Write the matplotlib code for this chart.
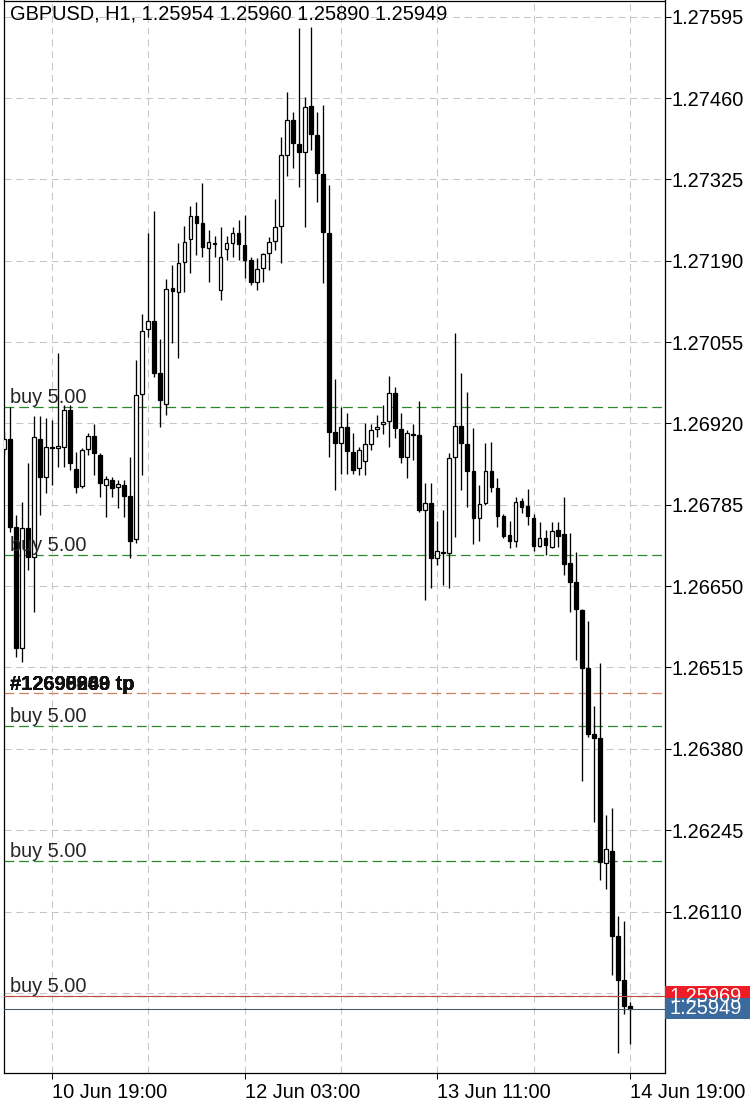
import numpy as np
import pandas as pd
import matplotlib
matplotlib.use('Agg')
import matplotlib.pyplot as plt
from matplotlib.patches import Rectangle
from matplotlib.transforms import blended_transform_factory

plt.rcParams['font.family'] = ['Liberation Sans', 'DejaVu Sans']
plt.rcParams['lines.scale_dashes'] = False

symbol = 'GBPUSD'
period = 'H1'
first_bar = '2024-06-10 11:00'

# hourly OHLC, oldest first (last bar = 14 Jun 19:00)
opens = [1.26877, 1.26894, 1.26748, 1.26547, 1.26746, 1.26698, 1.26894, 1.26831,
         1.26881, 1.26880, 1.26881, 1.26942, 1.26844, 1.26816, 1.26877, 1.26899,
         1.26867, 1.26818, 1.26826, 1.26814, 1.26818, 1.26799, 1.26728, 1.26969,
         1.27077, 1.27090, 1.27004, 1.26952, 1.27145, 1.27138, 1.27188, 1.27226,
         1.27264, 1.27252, 1.27211, 1.27219, 1.27141, 1.27209, 1.27219, 1.27236,
         1.27216, 1.27191, 1.27155, 1.27178, 1.27203, 1.27223, 1.27247, 1.27365,
         1.27423, 1.27384, 1.27370, 1.27447, 1.27399, 1.27334, 1.27236, 1.26906,
         1.26887, 1.26914, 1.26872, 1.26846, 1.26857, 1.26886, 1.26911, 1.26919,
         1.26924, 1.26970, 1.26911, 1.26864, 1.26902, 1.26901, 1.26776, 1.26788,
         1.26696, 1.26706, 1.26705, 1.26864, 1.26916, 1.26886, 1.26841, 1.26763,
         1.26788, 1.26841, 1.26813, 1.26766, 1.26735, 1.26725, 1.26791, 1.26783,
         1.26763, 1.26716, 1.26730, 1.26715, 1.26743, 1.26736, 1.26688, 1.26657,
         1.26610, 1.26514, 1.26404, 1.26398, 1.26190, 1.26210, 1.26069, 1.25996,
         1.25954]
highs = [1.26906, 1.26947, 1.26768, 1.26789, 1.26854, 1.26932, 1.26932, 1.26929,
         1.26926, 1.27037, 1.26950, 1.26950, 1.26872, 1.26879, 1.26904, 1.26919,
         1.26871, 1.26833, 1.26831, 1.26826, 1.26826, 1.26864, 1.27025, 1.27101,
         1.27236, 1.27272, 1.27060, 1.27160, 1.27183, 1.27219, 1.27247, 1.27281,
         1.27287, 1.27319, 1.27241, 1.27231, 1.27246, 1.27231, 1.27246, 1.27257,
         1.27266, 1.27196, 1.27194, 1.27203, 1.27229, 1.27292, 1.27395, 1.27470,
         1.27437, 1.27576, 1.27462, 1.27578, 1.27437, 1.27448, 1.27316, 1.26994,
         1.26947, 1.26937, 1.26904, 1.26881, 1.26921, 1.26919, 1.26934, 1.26950,
         1.26999, 1.26980, 1.26937, 1.26909, 1.26919, 1.26957, 1.26821, 1.26821,
         1.26758, 1.26776, 1.26871, 1.27070, 1.27004, 1.26972, 1.26912, 1.26818,
         1.26887, 1.26889, 1.26829, 1.26770, 1.26758, 1.26798, 1.26796, 1.26811,
         1.26770, 1.26756, 1.26743, 1.26756, 1.26756, 1.26798, 1.26738, 1.26706,
         1.26612, 1.26592, 1.26451, 1.26522, 1.26270, 1.26282, 1.26102, 1.26094,
         1.25960]
lows = [1.26867, 1.26740, 1.26532, 1.26524, 1.26676, 1.26607, 1.26768, 1.26804,
        1.26818, 1.26848, 1.26848, 1.26843, 1.26804, 1.26813, 1.26867, 1.26834,
        1.26798, 1.26765, 1.26798, 1.26779, 1.26765, 1.26696, 1.26721, 1.26834,
        1.27063, 1.26997, 1.26914, 1.26934, 1.27053, 1.27028, 1.27138, 1.27170,
        1.27199, 1.27196, 1.27155, 1.27196, 1.27125, 1.27191, 1.27196, 1.27191,
        1.27161, 1.27150, 1.27141, 1.27155, 1.27175, 1.27208, 1.27186, 1.27331,
        1.27344, 1.27312, 1.27246, 1.27374, 1.27287, 1.27153, 1.26864, 1.26809,
        1.26836, 1.26836, 1.26836, 1.26834, 1.26834, 1.26876, 1.26897, 1.26902,
        1.26881, 1.26896, 1.26854, 1.26829, 1.26859, 1.26773, 1.26627, 1.26647,
        1.26685, 1.26652, 1.26647, 1.26731, 1.26809, 1.26781, 1.26720, 1.26725,
        1.26784, 1.26806, 1.26748, 1.26730, 1.26713, 1.26715, 1.26771, 1.26751,
        1.26708, 1.26715, 1.26701, 1.26713, 1.26715, 1.26668, 1.26607, 1.26527,
        1.26326, 1.26400, 1.26258, 1.26162, 1.26147, 1.26004, 1.25876, 1.25940,
        1.25890]
closes = [1.26894, 1.26748, 1.26547, 1.26746, 1.26698, 1.26897, 1.26831, 1.26881,
          1.26880, 1.26882, 1.26942, 1.26854, 1.26814, 1.26876, 1.26899, 1.26871,
          1.26821, 1.26828, 1.26813, 1.26819, 1.26799, 1.26725, 1.26967, 1.27073,
          1.27090, 1.27004, 1.26959, 1.27143, 1.27140, 1.27186, 1.27221, 1.27264,
          1.27252, 1.27213, 1.27221, 1.27218, 1.27196, 1.27219, 1.27236, 1.27218,
          1.27191, 1.27155, 1.27176, 1.27201, 1.27221, 1.27246, 1.27365, 1.27423,
          1.27385, 1.27370, 1.27445, 1.27400, 1.27336, 1.27237, 1.26906, 1.26887,
          1.26914, 1.26874, 1.26843, 1.26876, 1.26886, 1.26909, 1.26914, 1.26922,
          1.26970, 1.26912, 1.26864, 1.26904, 1.26901, 1.26776, 1.26788, 1.26696,
          1.26708, 1.26705, 1.26862, 1.26916, 1.26887, 1.26841, 1.26763, 1.26786,
          1.26841, 1.26814, 1.26766, 1.26733, 1.26725, 1.26789, 1.26781, 1.26766,
          1.26716, 1.26730, 1.26718, 1.26741, 1.26733, 1.26686, 1.26657, 1.26612,
          1.26514, 1.26404, 1.26398, 1.26192, 1.26213, 1.26069, 1.25996, 1.25954,
          1.25949]

price_levels = [1.27595, 1.27460, 1.27325, 1.27190, 1.27055, 1.26920, 1.26785,
                1.26650, 1.26515, 1.26380, 1.26245, 1.26110, 1.25975]

buy_prices = [1.26947, 1.26701, 1.26418, 1.26194, 1.25969]
buy_label = 'buy 5.00'
tp_price = 1.26472
tp_tickets = ['12698069', '12699260', '12690889', '12695903', '12696949']
bid = 1.25949
ask = 1.25969

grid_col = '#c6c6c6'
green = '#2a8a2a'
tp_col = '#d0805f'
ask_col = '#cc4444'
bid_col = '#44596b'
ask_box = '#ee1c24'
bid_box = '#3b6b9c'
fs = 14.4

times = pd.date_range(first_bar, periods=len(opens), freq='h')
x = np.arange(len(opens))

fig = plt.figure(figsize=(7.5, 11.04), dpi=100)
ax = fig.add_axes([4/750, 31/1104, 661/750, 1072.5/1104])
ax.set_xlim(0.03, 109.83)
ax.set_ylim(1.25842, 1.27622)

# grid every 16 bars, a date label every 32
major = list(range(8, len(times), 32))
minor = [i for i in range(8, len(times), 16) if i not in major]
ax.set_xticks(major)
ax.set_xticklabels(['%d %s' % (times[i].day, times[i].strftime('%b %H:%M')) for i in major])
ax.set_xticks(minor, minor=True)
ax.set_yticks(price_levels)
ax.set_yticklabels(['%.5f' % p for p in price_levels])
ax.yaxis.tick_right()
ax.grid(True, which='both', color=grid_col, lw=0.75, dashes=(5, 3.5), zorder=0)
ax.tick_params(axis='y', direction='out', length=4, width=0.75, pad=1, labelsize=fs)
ax.tick_params(axis='x', which='major', direction='out', length=4, width=0.75, pad=3, labelsize=fs)
ax.tick_params(axis='x', which='minor', length=0)
for lbl in ax.get_xticklabels():
    lbl.set_ha('left')
for s in ax.spines.values():
    s.set_linewidth(0.9)
ax.set_axisbelow(True)

# order lines
for p in buy_prices:
    ax.axhline(p, color=green, lw=0.9, dashes=(7, 3.6), zorder=1)
    ax.annotate(buy_label, xy=(0.009, p), xycoords=('axes fraction', 'data'),
                xytext=(0, 3), textcoords='offset points', va='baseline',
                fontsize=fs, color='#262626', zorder=6)
ax.axhline(tp_price, color=tp_col, lw=0.9, dashes=(7, 3.6), zorder=1)
for t in tp_tickets:
    ax.annotate('#%s tp' % t, xy=(0.009, tp_price), xycoords=('axes fraction', 'data'),
                xytext=(0, 2.2), textcoords='offset points', va='baseline',
                fontsize=fs, fontweight='bold', color='#111111', zorder=6)

# candles
for i in range(len(opens)):
    o, h, l, c = opens[i], highs[i], lows[i], closes[i]
    ax.vlines(x[i], l, h, color='black', lw=0.95, zorder=3)
    up = c >= o
    ax.add_patch(Rectangle((x[i] - 0.31, min(o, c)), 0.62, abs(c - o),
                           facecolor='white' if up else 'black', edgecolor='black',
                           lw=0.9, zorder=4))

# bid / ask
ax.axhline(ask, color=ask_col, lw=0.75, zorder=5)
ax.axhline(bid, color=bid_col, lw=0.75, zorder=5)
tr = blended_transform_factory(ax.transAxes, ax.transData)
half = 10.5 / (1072.5 / (1.27622 - 1.25842))
for p, col in [(ask, ask_box), (bid, bid_box)]:
    ax.add_patch(Rectangle((1.0, p - half), 0.14, 2 * half, transform=tr,
                           facecolor=col, edgecolor='none', clip_on=False, zorder=10))
    ax.text(1.0075, p, '%.5f' % p, transform=tr, va='center', ha='left',
            fontsize=fs, color='white', zorder=11, clip_on=False)

fig.text(10/750, 1 - 4/1104, '%s, %s, %.5f %.5f %.5f %.5f' % (symbol, period, opens[-1],
         highs[-1], lows[-1], closes[-1]), va='top', ha='left', fontsize=fs)

fig.savefig('out.png', dpi=100)
